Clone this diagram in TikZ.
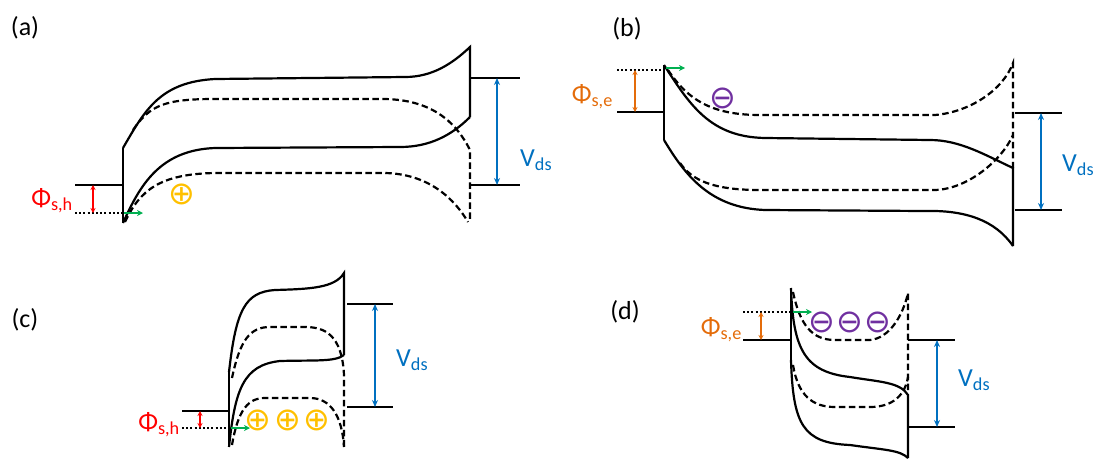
\documentclass[tikz,border=0pt]{standalone}
\usepackage{fontspec}
\setmainfont{Carlito}
\newfontfamily\chargefont{DejaVu Sans}
\usetikzlibrary{arrows.meta}
\definecolor{vdsblue}{RGB}{0,112,192}
\definecolor{holered}{RGB}{255,0,0}
\definecolor{elecorange}{RGB}{228,108,10}
\definecolor{injgreen}{RGB}{0,176,80}
\definecolor{holeyellow}{RGB}{255,192,0}
\definecolor{elecpurple}{RGB}{112,48,160}
\tikzset{
  band/.style={line width=2.2pt},
  bandd/.style={band, dash pattern=on 6.5pt off 3.5pt},
  level/.style={line width=2.2pt},
  dotlevel/.style={line width=2pt, dash pattern=on 2pt off 2.2pt},
  vds/.style={vdsblue, line width=2pt, {Stealth[length=7pt,width=6pt]}-{Stealth[length=7pt,width=6pt]}},
  barrier/.style={line width=1.6pt, {Stealth[length=5pt,width=5pt]}-{Stealth[length=5pt,width=5pt]}},
  inject/.style={injgreen, line width=2pt, -{Stealth[length=6pt,width=6pt]}},
  lbl/.style={font=\fontsize{26}{30}\selectfont, inner sep=0pt},
  hole/.style={holeyellow, font=\chargefont\fontsize{32}{32}\selectfont, inner sep=0pt},
  elec/.style={elecpurple, font=\chargefont\fontsize{32}{32}\selectfont, inner sep=0pt}
}
\begin{document}
\begin{tikzpicture}[x=1pt, y=-1pt]
    \useasboundingbox (0, 0) rectangle (1102, 461);

    \node[lbl] (tagA) at (25, 28) {(a)};
    \draw[level] (75, 185) -- (123, 185);
    \draw[dotlevel] (75, 213) -- (123, 213);
    \draw[barrier, holered] (93, 185) -- (93, 213);
    \node[lbl, holered, anchor=east] (phiA) at (73, 201) {Φ\textsubscript{s,h}};
    \draw[band] (123, 148) -- (123, 223);
    \draw[band] (123, 148) .. controls (145, 110) and (160, 82) .. (215, 79) -- (405, 77) .. controls (432, 77) and (452, 64) .. (470, 47) -- (470, 117);
    \draw[band] (123, 223) .. controls (140, 185) and (160, 150) .. (215, 148) -- (400, 147) .. controls (430, 147) and (452, 135) .. (470, 117);
    \draw[bandd] (133, 130) .. controls (150, 105) and (165, 99) .. (215, 99) -- (385, 99) .. controls (430, 100) and (455, 120) .. (470, 150) -- (470, 222);
    \draw[bandd] (125, 222) .. controls (140, 190) and (160, 174) .. (215, 173) -- (385, 173) .. controls (430, 174) and (455, 200) .. (468, 222);
    \draw[inject] (124, 213) -- (143, 213);
    \node[hole] (hA) at (182, 194) {⊕};
    \draw[level] (470, 78) -- (520, 78);
    \draw[level] (470, 185) -- (520, 185);
    \draw[vds] (497, 78) -- (497, 185);
    \node[lbl, vdsblue, anchor=west] (vA) at (520, 160) {V\textsubscript{ds}};

    \node[lbl] (tagB) at (627, 29) {(b)};
    \draw[level] (617, 112) -- (664, 112);
    \draw[dotlevel] (617, 70) -- (664, 70);
    \draw[barrier, elecorange] (635, 70) -- (635, 112);
    \node[lbl, elecorange, anchor=east] (phiB) at (613, 97) {Φ\textsubscript{s,e}};
    \draw[band] (664, 65) -- (664, 140);
    \draw[band] (664, 65) .. controls (690, 105) and (710, 137) .. (765, 138) -- (930, 140) .. controls (960, 140) and (985, 155) .. (1013, 168) -- (1013, 246);
    \draw[band] (664, 140) .. controls (685, 175) and (710, 208) .. (765, 210) -- (925, 211) .. controls (965, 210) and (995, 220) .. (1013, 246);
    \draw[bandd] (668, 70) .. controls (688, 100) and (712, 115) .. (760, 115) -- (935, 115) .. controls (970, 112) and (1003, 90) .. (1013, 63) -- (1013, 168);
    \draw[bandd] (680, 163) .. controls (692, 180) and (712, 190) .. (760, 190) -- (935, 190) .. controls (968, 189) and (1002, 160) .. (1013, 135);
    \draw[inject] (666, 68) -- (685, 68);
    \node[elec] (eB) at (723, 98) {⊖};
    \draw[level] (1015, 113) -- (1062, 113);
    \draw[level] (1015, 210) -- (1062, 210);
    \draw[vds] (1041, 113) -- (1041, 210);
    \node[lbl, vdsblue, anchor=west] (vB) at (1062, 165) {V\textsubscript{ds}};

    \node[lbl] (tagC) at (25, 320) {(c)};
    \draw[level] (182, 411) -- (229, 411);
    \draw[dotlevel] (182, 428) -- (229, 428);
    \draw[barrier, holered] (200, 411) -- (200, 428);
    \node[lbl, holered, anchor=east] (phiC) at (180, 425) {Φ\textsubscript{s,h}};
    \draw[band] (229, 372) -- (229, 447);
    \draw[band] (229, 372) .. controls (236, 310) and (245, 292) .. (275, 290) .. controls (310, 289) and (335, 288) .. (344, 273) -- (344, 355);
    \draw[band] (229, 447) .. controls (235, 390) and (243, 365) .. (280, 361) .. controls (315, 360) and (335, 362) .. (344, 355);
    \draw[bandd] (232, 378) .. controls (240, 340) and (250, 327) .. (270, 327) -- (305, 327) .. controls (325, 327) and (342, 335) .. (344, 375) -- (344, 447);
    \draw[bandd] (232, 445) .. controls (238, 410) and (248, 398) .. (265, 398) -- (310, 398) .. controls (330, 398) and (342, 415) .. (344, 447);
    \draw[inject] (231, 428) -- (250, 428);
    \node[hole] (hC1) at (258, 420) {⊕};
    \node[hole] (hC2) at (288, 420) {⊕};
    \node[hole] (hC3) at (317, 420) {⊕};
    \draw[level] (347, 304) -- (393, 304);
    \draw[level] (347, 407) -- (393, 407);
    \draw[vds] (375, 304) -- (375, 407);
    \node[lbl, vdsblue, anchor=west] (vC) at (396, 360) {V\textsubscript{ds}};

    \node[lbl] (tagD) at (625, 312) {(d)};
    \draw[level] (743, 340) -- (791, 340);
    \draw[dotlevel] (743, 312) -- (791, 312);
    \draw[barrier, elecorange] (761, 312) -- (761, 340);
    \node[lbl, elecorange, anchor=east] (phiD) at (742, 330) {Φ\textsubscript{s,e}};
    \draw[band] (791, 288) -- (791, 360);
    \draw[band] (791, 288) .. controls (793, 350) and (805, 372) .. (850, 377) .. controls (880, 382) and (900, 382) .. (908, 395) -- (908, 458);
    \draw[band] (791, 360) .. controls (793, 425) and (803, 443) .. (850, 445) .. controls (885, 450) and (900, 450) .. (908, 458);
    \draw[bandd] (793, 292) .. controls (800, 325) and (812, 340) .. (835, 340) -- (870, 340) .. controls (890, 338) and (903, 315) .. (908, 293) -- (908, 393);
    \draw[bandd] (793, 365) .. controls (798, 395) and (812, 407) .. (835, 407) -- (870, 407) .. controls (893, 407) and (905, 395) .. (908, 377);
    \draw[inject] (793, 312) -- (812, 312);
    \node[elec] (eD1) at (822, 322) {⊖};
    \node[elec] (eD2) at (850, 322) {⊖};
    \node[elec] (eD3) at (878, 322) {⊖};
    \draw[level] (908, 340) -- (955, 340);
    \draw[level] (908, 427) -- (955, 427);
    \draw[vds] (937, 340) -- (937, 427);
    \node[lbl, vdsblue, anchor=west] (vD) at (958, 380) {V\textsubscript{ds}};
  \end{tikzpicture}
\end{document}
